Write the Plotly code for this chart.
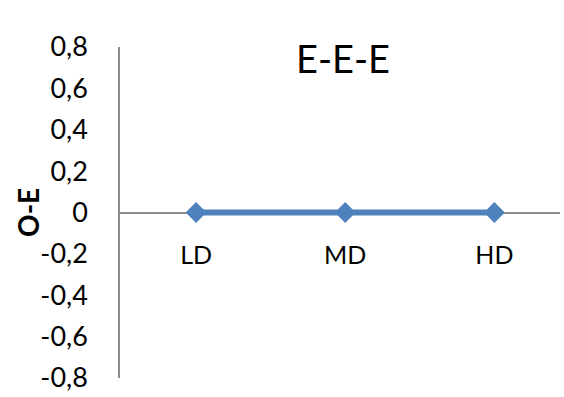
import plotly.graph_objects as go

categories = ["LD", "MD", "HD"]
values = [0, 0, 0]
y_ticks = [-0.8, -0.6, -0.4, -0.2, 0, 0.2, 0.4, 0.6, 0.8]
y_ticktext = ["0" if v == 0 else f"{v:.1f}".replace(".", ",") for v in y_ticks]

W, H = 564, 397
l, r, t, b = 120, 4, 47, 17
pw, ph = W - l - r, H - t - b

font_family = "Lato, sans-serif"

fig = go.Figure()
fig.add_trace(go.Scatter(
    x=categories, y=values, mode="lines+markers",
    line=dict(color="#4F81BD", width=6),
    marker=dict(symbol="diamond", size=16, color="#4F81BD"),
    showlegend=False,
))

fig.update_layout(
    width=W, height=H,
    margin=dict(l=l, r=r, t=t, b=b),
    paper_bgcolor="white", plot_bgcolor="white",
    font=dict(family=font_family, size=22, color="black"),
    xaxis=dict(
        type="category", range=[-0.51, 2.44],
        anchor="free", position=0.5, layer="below traces",
        showline=True, linecolor="#8c8c8c", linewidth=1.5,
        showgrid=False, zeroline=False,
        ticks="", ticklabelstandoff=21,
        tickfont=dict(family=font_family, size=25),
    ),
    yaxis=dict(
        range=[-0.8, 0.8], tickvals=y_ticks, ticktext=y_ticktext,
        showline=True, linecolor="#8c8c8c", linewidth=1.5,
        showgrid=False, zeroline=False, layer="below traces",
        ticks="", ticklabelstandoff=25,
        tickfont=dict(family=font_family, size=27),
    ),
    annotations=[
        dict(text="E-E-E", xref="paper", yref="paper",
             x=(343 - l) / pw, y=(H - b - 58) / ph,
             xanchor="center", yanchor="middle",
             showarrow=False, font=dict(size=38)),
        dict(text="<b>O-E</b>", xref="paper", yref="paper",
             x=(28 - l) / pw, y=(H - b - 214) / ph,
             xanchor="center", yanchor="middle",
             showarrow=False, textangle=-90, font=dict(size=28)),
    ],
)

fig.write_html("out.html")
